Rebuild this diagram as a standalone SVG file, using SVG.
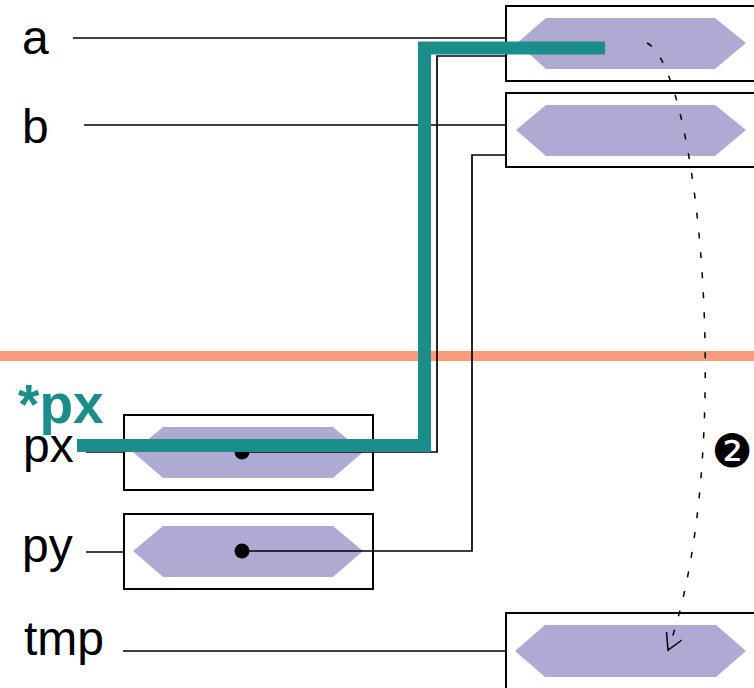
<svg xmlns="http://www.w3.org/2000/svg" width="754" height="688" viewBox="0 0 754 688">
<style>
.lbl{font-family:"Liberation Sans",Arial,sans-serif;font-size:48px;fill:#000}
.box{fill:#fff;stroke:#000;stroke-width:2}
.hex{fill:#afaad4}
.wire{fill:none;stroke:#000;stroke-width:1.7}
.dot{fill:#000}
</style>
<rect width="754" height="688" fill="#fff"/>
<line x1="0" y1="356" x2="754" y2="356" stroke="#f99b7d" stroke-width="10"/>
<g id="a">
<text class="lbl" x="22" y="54">a</text>
<rect class="box" x="506" y="6" width="256" height="75"/>
<polygon class="hex" points="517,43 546,18 715,18 746,43 715,69 546,69"/>
</g>
<g id="b">
<text class="lbl" x="22" y="143">b</text>
<rect class="box" x="506" y="93" width="256" height="74"/>
<polygon class="hex" points="516,130 546,105 715,105 746,130 715,156 546,156"/>
</g>
<g id="px">
<text class="lbl" x="23" y="462">px</text>
<rect class="box" x="124" y="415" width="249" height="75"/>
<polygon class="hex" points="133,452 163,427 333,427 363,452 333,478 163,478"/>
<circle class="dot" cx="242" cy="452" r="7.5"/>
</g>
<g id="py">
<text class="lbl" x="22" y="562">py</text>
<rect class="box" x="124" y="514" width="249" height="75"/>
<polygon class="hex" points="133,551 163,526 333,526 363,551 333,577 163,577"/>
<circle class="dot" cx="242" cy="551" r="7.5"/>
</g>
<g id="tmp">
<text class="lbl" x="24" y="655">tmp</text>
<rect class="box" x="506" y="613" width="256" height="90"/>
<polygon class="hex" points="515,651 545,625 716,625 746,651 716,677 545,677"/>
</g>
<g id="connectors">
<line class="wire" x1="73" y1="38" x2="506" y2="38"/>
<line class="wire" x1="84" y1="125" x2="506" y2="125"/>
<line class="wire" x1="86" y1="452" x2="124" y2="452"/>
<line class="wire" x1="86" y1="552" x2="124" y2="552"/>
<line class="wire" x1="123" y1="651" x2="506" y2="651"/>
<path class="wire" d="M242,452 H437 V56 H506"/>
<path class="wire" d="M242,551 H472 V155 H506"/>
<path d="M605,48 H424.5 V445.5 H77" fill="none" stroke="#1b8e8b" stroke-width="13"/>
<path d="M647,43 C700,70 736,460 668,650" fill="none" stroke="#000" stroke-width="1.5" stroke-dasharray="6 14"/>
<path d="M666.5,632 L668,650 L682,640" fill="none" stroke="#000" stroke-width="1.5"/>
</g>
<text x="18" y="423" font-family="Liberation Sans,Arial,sans-serif" font-size="55" font-weight="bold" fill="#1b8e8b">*px</text>
<text x="732" y="467" text-anchor="middle" font-family="DejaVu Sans,sans-serif" font-size="46" fill="#000">❷</text>
</svg>
